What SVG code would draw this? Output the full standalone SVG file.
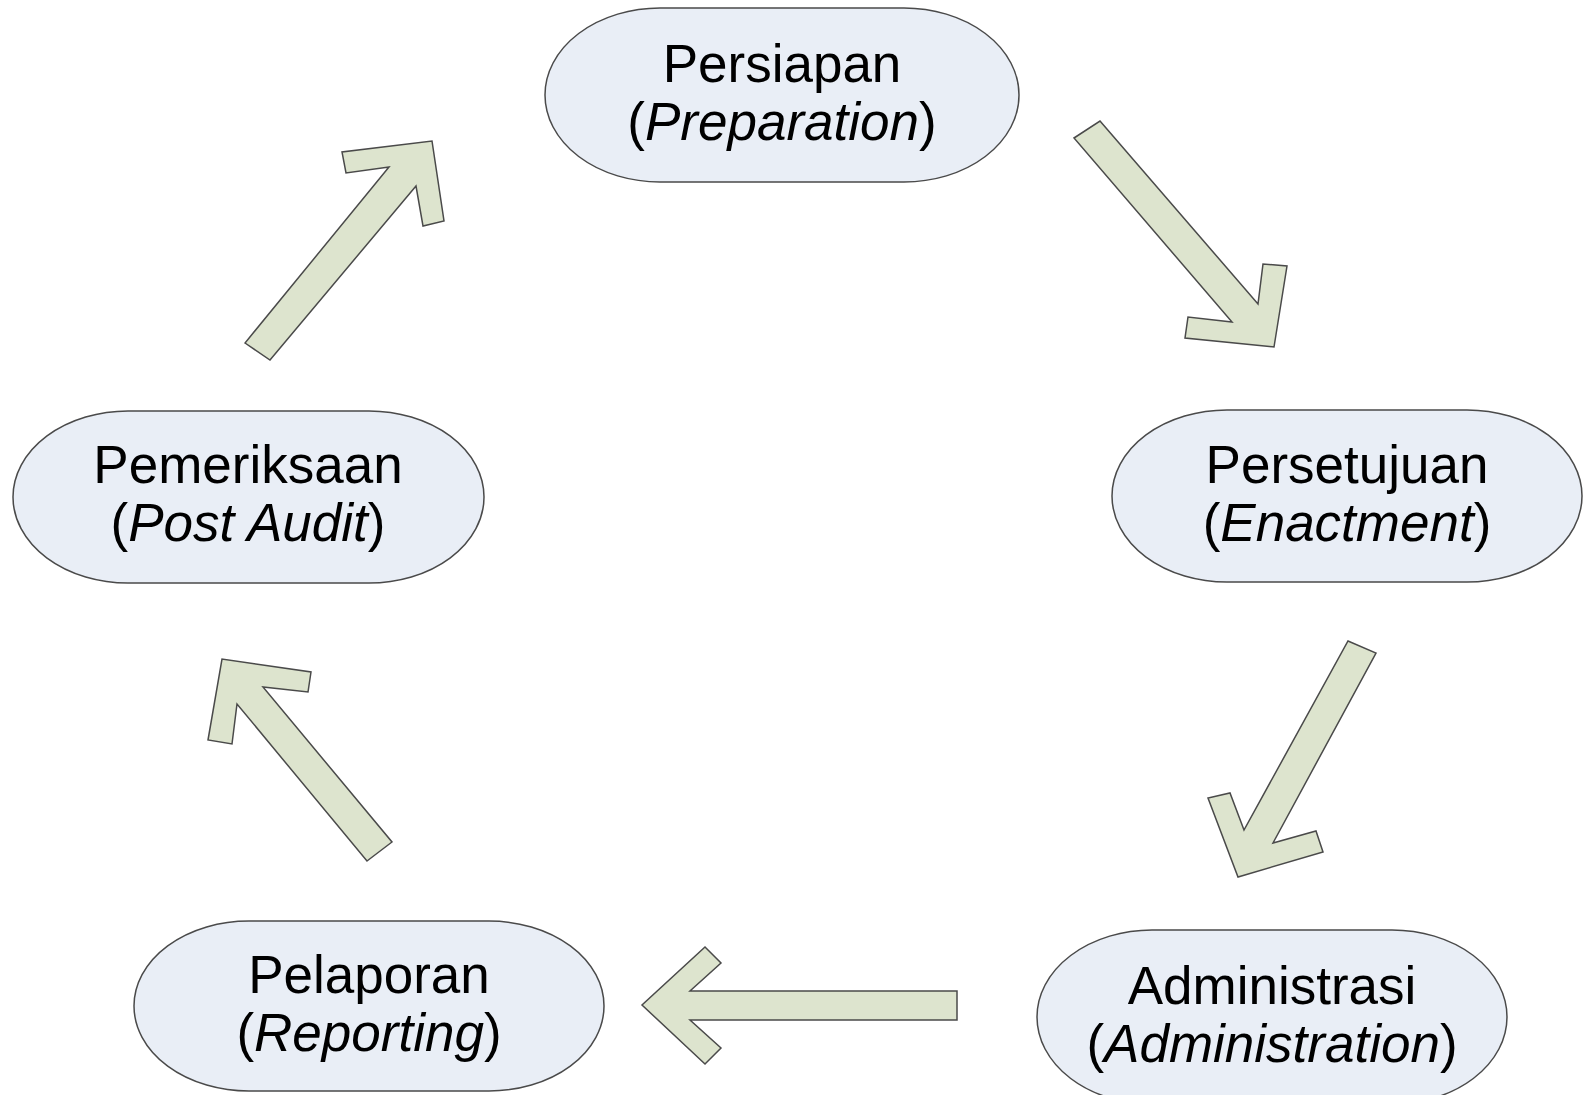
<svg xmlns="http://www.w3.org/2000/svg" width="1583" height="1095" viewBox="0 0 1583 1095">
<style>
.node{fill:#E9EEF6;stroke:#4a4a4a;stroke-width:1.5}
.arr{fill:#DDE4CE;stroke:#4a4a4a;stroke-width:1.5;stroke-linejoin:miter}
text{font-family:"Liberation Sans",Arial,sans-serif;font-size:53px;fill:#000;text-anchor:middle}
.it{font-style:italic}
</style>
<rect width="1583" height="1095" fill="#fff"/>
<g id="connectors">
<polygon class="arr" points="1074,138 1100,121 1258,304 1263,264 1287,266 1274,347 1185,338 1188,317 1232,322"/>
<polygon class="arr" points="1348,641 1376,653 1273,843 1316,831 1323,852 1238,877 1208,798 1230,793 1244,830"/>
<polygon class="arr" points="957,991 690,991 721,963 705,947 642,1005 705,1064 721,1048 690,1020 957,1020"/>
<polygon class="arr" points="367,861 392,842 263,687 308,692 311,672 222,659 208,740 232,744 237,704"/>
<polygon class="arr" points="245,343 270,360 416,186 423,226 444,221 432,141 342,152 346,173 389,167"/>
</g>
<g id="node-persiapan">
<rect class="node" x="545" y="8" width="474" height="174" rx="115" ry="87"/>
<text x="782" y="82">Persiapan</text>
<text x="782" y="140">(<tspan class="it">Preparation</tspan>)</text>
</g>
<g id="node-persetujuan">
<rect class="node" x="1112" y="410" width="470" height="172" rx="115" ry="86"/>
<text x="1347" y="483">Persetujuan</text>
<text x="1347" y="541">(<tspan class="it">Enactment</tspan>)</text>
</g>
<g id="node-administrasi">
<rect class="node" x="1037" y="930" width="470" height="174" rx="115" ry="87"/>
<text x="1272" y="1004">Administrasi</text>
<text x="1272" y="1062">(<tspan class="it">Administration</tspan>)</text>
</g>
<g id="node-pelaporan">
<rect class="node" x="134" y="921" width="470" height="170" rx="115" ry="85"/>
<text x="369" y="993">Pelaporan</text>
<text x="369" y="1051">(<tspan class="it">Reporting</tspan>)</text>
</g>
<g id="node-pemeriksaan">
<rect class="node" x="13" y="411" width="471" height="172" rx="115" ry="86"/>
<text x="248" y="483">Pemeriksaan</text>
<text x="248" y="541">(<tspan class="it">Post Audit</tspan>)</text>
</g>
</svg>
